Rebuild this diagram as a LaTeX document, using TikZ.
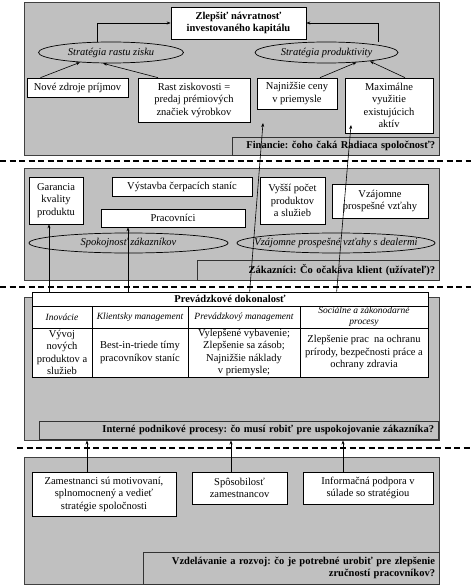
\documentclass[tikz,border=0pt]{standalone}
\usepackage{fontspec}
\setmainfont{Liberation Serif}
\usetikzlibrary{shapes.geometric,arrows.meta,calc}
\definecolor{bsc}{RGB}{192,192,192}
\frenchspacing

\begin{document}
\begin{tikzpicture}[x=1pt,y=-1pt,>={Stealth[length=4pt,width=3pt]},
   every node/.style={font=\fontsize{10.5}{12.5}\selectfont, inner sep=1pt, align=center},
   panel/.style={draw=black!75, fill=bsc, line width=0.9pt},
   lbl/.style={draw=black!80, fill=bsc, line width=0.9pt, align=right,
     inner xsep=4pt, inner ysep=0pt, font=\fontsize{10.5}{12.5}\selectfont\bfseries},
   wbox/.style={draw, fill=white, line width=0.7pt},
   oval/.style={ellipse, draw, fill=bsc, line width=0.7pt, inner sep=0pt},
   ovaltext/.style={font=\fontsize{10.5}{12.5}\selectfont\itshape},
   cell/.style={draw, fill=white, line width=0.7pt, inner ysep=0pt},
   head/.style={cell, font=\fontsize{9.5}{11}\selectfont\itshape},
   sep/.style={dash pattern=on 6pt off 3.5pt, line width=1.3pt},
   arr/.style={->, line width=0.6pt}]
  \useasboundingbox[fill=white] (0,0) rectangle (471,585);

  % panels
  \node[panel, minimum width=415pt, minimum height=153pt] (finP) at (231.5,78.5) {};
  \node[panel, minimum width=415pt, minimum height=112pt] (zakP) at (231.5,224) {};
  \node[panel, minimum width=415pt, minimum height=143pt] (intP) at (231.5,368.5) {};
  \node[panel, minimum width=415pt, minimum height=127pt] (vzdP) at (231.5,520.5) {};

  % dashed separators
  \draw[sep] (0,161) -- (471,161);
  \draw[sep] (0,287) -- (471,287);
  \draw[sep] (17,448) -- (471,448);

  % perspective labels
  \node[lbl, text width=199pt, minimum height=18pt] (finL) at (335.5,146)
    {Financie: čoho čaká Radiaca spoločnosť?};
  \node[lbl, text width=234pt, minimum height=20pt] (zakL) at (318,270)
    {Zákazníci: Čo očakáva klient (užívateľ)?};
  \node[lbl, text width=391pt, minimum height=18pt] (intL) at (238.5,430)
    {Interné podnikové procesy: čo musí robiť pre uspokojovanie zákazníka?};
  \node[lbl, text width=288pt, minimum height=32pt] (vzdL) at (291,568)
    {Vzdelávanie a rozvoj: čo je potrebné urobiť pre zlepšenie\\zručností pracovníkov?};

  % financie
  \node[wbox, font=\fontsize{10.5}{12.5}\selectfont\bfseries, minimum width=135pt,
    minimum height=32pt] (cap) at (238.5,23) {Zlepšiť návratnosť\\investovaného kapitálu};
  \node[oval, minimum width=145pt, minimum height=21pt,
    label={[ovaltext]center:Stratégia rastu zisku}] (zisk) at (111,52.5) {};
  \node[oval, minimum width=143pt, minimum height=21pt,
    label={[ovaltext]center:Stratégia produktivity}] (prod) at (326.5,52.5) {};
  \node[wbox, minimum width=101pt, minimum height=19pt] (nove) at (77.5,87.5) {Nové zdroje príjmov};
  \node[wbox, minimum width=112pt, minimum height=44pt] (rast) at (194,100)
    {Rast ziskovosti =\\predaj prémiových\\značiek výrobkov};
  \node[wbox, minimum width=80pt, minimum height=31pt] (najn) at (297,93.5) {Najnižšie ceny\\v priemysle};
  \node[wbox, minimum width=88pt, minimum height=55pt] (maxv) at (389,105.5)
    {Maximálne\\využitie\\existujúcich\\aktív};
  \draw[arr] ([xshift=-14pt]zisk.north) |- (cap.west);
  \draw[arr] ([xshift=52pt]prod.north) |- (cap.east);
  \draw[arr] ([xshift=-37pt]nove.north) -- ([xshift=-31pt,yshift=1pt]zisk.south);
  \draw[arr] ([xshift=-36pt]rast.north) -- ([xshift=-8pt]zisk.south);
  \draw[arr] ([xshift=23pt]najn.north) -- ([xshift=30pt,yshift=1pt]prod.south);
  \draw[arr] ([xshift=16pt]maxv.north) -- ([xshift=43.5pt,yshift=2pt]prod.south);

  % zakaznici
  \node[wbox, minimum width=54pt, minimum height=47pt] (gar) at (56,200.5) {Garancia\\kvality\\produktu};
  \node[wbox, minimum width=140pt, minimum height=19pt] (vyst) at (182,186.5) {Výstavba čerpacích staníc};
  \node[wbox, minimum width=144pt, minimum height=18pt] (prac) at (173,218) {Pracovníci};
  \node[wbox, minimum width=65pt, minimum height=47pt] (vyssi) at (292.5,200.5)
    {Vyšší počet\\produktov\\a služieb};
  \node[wbox, minimum width=96pt, minimum height=34pt] (vzaj) at (380,201) {Vzájomne\\prospešné vzťahy};
  \node[oval, minimum width=199pt, minimum height=20pt,
    label={[ovaltext]center:Spokojnosť zákazníkov}] (spok) at (128.5,243) {};
  \node[oval, minimum width=198pt, minimum height=20pt,
    label={[ovaltext]center:Vzájomne prospešné vzťahy s dealermi}] (deal) at (336,243) {};

  % interne procesy
  \node[cell, font=\fontsize{10.5}{12.5}\selectfont\bfseries, minimum width=396pt,
    minimum height=14pt] (hdr) at (230,299) {Prevádzkové dokonalosť};
  \node[head, minimum width=60pt, minimum height=22pt] (h1) at (62,317) {Inovácie};
  \node[head, minimum width=96pt, minimum height=22pt] (h2) at (140,317) {Klientsky management};
  \node[head, minimum width=112pt, minimum height=22pt] (h3) at (244,317) {Prevádzkový management};
  \node[head, minimum width=128pt, minimum height=22pt] (h4) at (364,317) {Sociálne a zákonodarné\\procesy};
  \node[cell, minimum width=60pt, minimum height=49pt] (c1) at (62,352.5)
    {Vývoj\\nových\\produktov a\\služieb};
  \node[cell, minimum width=96pt, minimum height=49pt] (c2) at (140,352.5)
    {Best-in-triede tímy\\pracovníkov staníc};
  \node[cell, minimum width=112pt, minimum height=49pt] (c3) at (244,352.5)
    {Vylepšené vybavenie;\\Zlepšenie sa zásob;\\Najnižšie náklady\\v priemysle;};
  \node[cell, minimum width=128pt, minimum height=49pt] (c4) at (364,352.5)
    {Zlepšenie prac\ \ na ochranu\\prírody, bezpečnosti práce a\\ochrany zdravia};
  \coordinate (finA) at (263,123);
  \coordinate (finB) at (351,125);
  \draw[arr] ([xshift=-7pt]gar.south |- hdr.north) -- ([xshift=-7pt]gar.south);
  \draw[arr] ([xshift=-45pt]prac.south |- hdr.north) -- ([xshift=-45pt]prac.south);
  \draw[arr] ([xshift=218pt]hdr.north west) -- (finA);
  \draw[arr] ([xshift=305pt]hdr.north west) -- (finB);

  % vzdelavanie
  \node[wbox, minimum width=144pt, minimum height=44pt] (zam) at (104,494)
    {Zamestnanci sú motivovaní,\\splnomocnený a vedieť\\stratégie spoločnosti};
  \node[wbox, minimum width=95pt, minimum height=32pt] (spos) at (239.5,488) {Spôsobilosť\\zamestnancov};
  \node[wbox, minimum width=130pt, minimum height=32pt] (info) at (368,488)
    {Informačná podpora v\\súlade so stratégiou};
  \draw[arr] ([xshift=-17pt]zam.north) -- ([xshift=-17pt]zam.north |- intP.south);
  \draw[arr] ([xshift=-8.5pt]spos.north) -- ([xshift=-8.5pt]spos.north |- intP.south);
  \draw[arr] ([xshift=-25pt]info.north) -- ([xshift=-25pt]info.north |- intP.south);
\end{tikzpicture}
\end{document}
